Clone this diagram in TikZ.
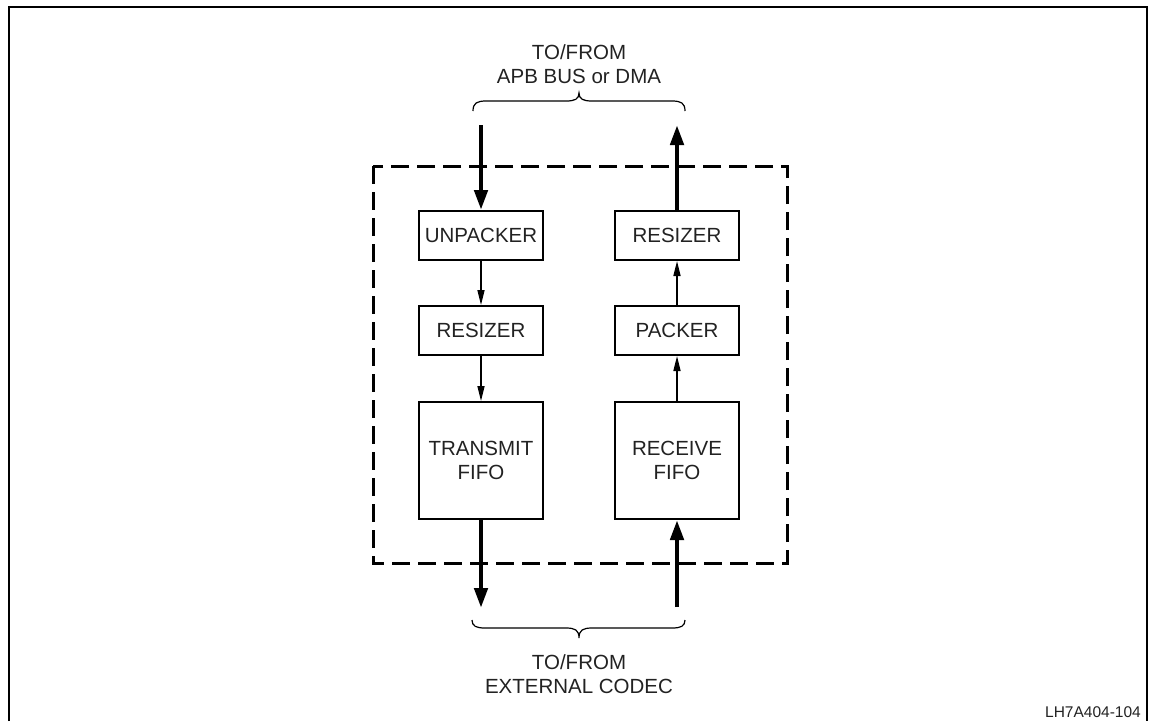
\documentclass[tikz,border=0pt]{standalone}
\usepackage{fontspec}
\setmainfont{Liberation Sans}
\usetikzlibrary{arrows.meta}
\definecolor{ink}{HTML}{222222}
\tikzset{
  blk/.style={draw=black, line width=2pt, minimum width=124pt, inner sep=0pt, align=center, text=ink, font=\fontsize{20.5}{24}\selectfont},
  smallblk/.style={blk, minimum height=49pt},
  bigblk/.style={blk, minimum height=117pt},
  thick arrow/.style={line width=4.5pt, -{Triangle[length=20pt,width=13pt]}},
  thin arrow/.style={line width=1.5pt, -{Triangle[length=15pt,width=7pt]}},
  caption/.style={align=center, inner sep=0pt, text=ink, font=\fontsize{20.5}{24}\selectfont},
  bracestyle/.style={line width=1.2pt},
}
\begin{document}
\begin{tikzpicture}[x=1pt,y=-1pt]
\useasboundingbox (0,0) rectangle (1150,721);
% outer frame
\draw[line width=2pt] (9,721) -- (9,7) -- (1147,7) -- (1147,721);
% dashed enclosure
\draw[line width=3pt, dash pattern=on 18pt off 8pt] (373,166) rectangle (787,563);
% blocks
\node[smallblk] (unpack) at (481,235.5) {UNPACKER};
\node[smallblk] (resizeL) at (481,330.5) {RESIZER};
\node[bigblk] (tx) at (481,460.5) {TRANSMIT\\FIFO};
\node[smallblk] (resizeR) at (677,235.5) {RESIZER};
\node[smallblk] (packer) at (677,330.5) {PACKER};
\node[bigblk] (rx) at (677,460.5) {RECEIVE\\FIFO};
% external points
\coordinate (inTop) at (481,125);
\coordinate (outTop) at (677,125);
\coordinate (outBot) at (481,608);
\coordinate (inBot) at (677,607);
% arrows
\draw[thick arrow] (inTop) -- (unpack.north);
\draw[thick arrow] (resizeR.north) -- (outTop);
\draw[thick arrow] (tx.south) -- (outBot);
\draw[thick arrow] (inBot) -- (rx.south);
\draw[thin arrow] (unpack.south) -- (resizeL.north);
\draw[thin arrow] (resizeL.south) -- (tx.north);
\draw[thin arrow] (rx.north) -- (packer.south);
\draw[thin arrow] (packer.north) -- (resizeR.south);
% braces
\draw[bracestyle] (473,111) .. controls (473,103) and (477,101) .. (486,101) -- (566,101) .. controls (575,101) and (579,99) .. (579,93) .. controls (579,99) and (583,101) .. (592,101) -- (672,101) .. controls (681,101) and (685,103) .. (685,111);
\draw[bracestyle] (472,620) .. controls (472,626) and (476,628) .. (485,628) -- (566,628) .. controls (575,628) and (579,630) .. (579,638) .. controls (579,630) and (583,628) .. (592,628) -- (672,628) .. controls (681,628) and (685,626) .. (685,620);
% captions
\node[caption] (topcap) at (579,64) {TO/FROM\\APB BUS or DMA};
\node[caption] (botcap) at (579,674) {TO/FROM\\EXTERNAL CODEC};
\node[anchor=base east, inner sep=0pt, text=ink, font=\fontsize{15.5}{17}\selectfont] (code) at (1141,717) {LH7A404-104};
\end{tikzpicture}
\end{document}
